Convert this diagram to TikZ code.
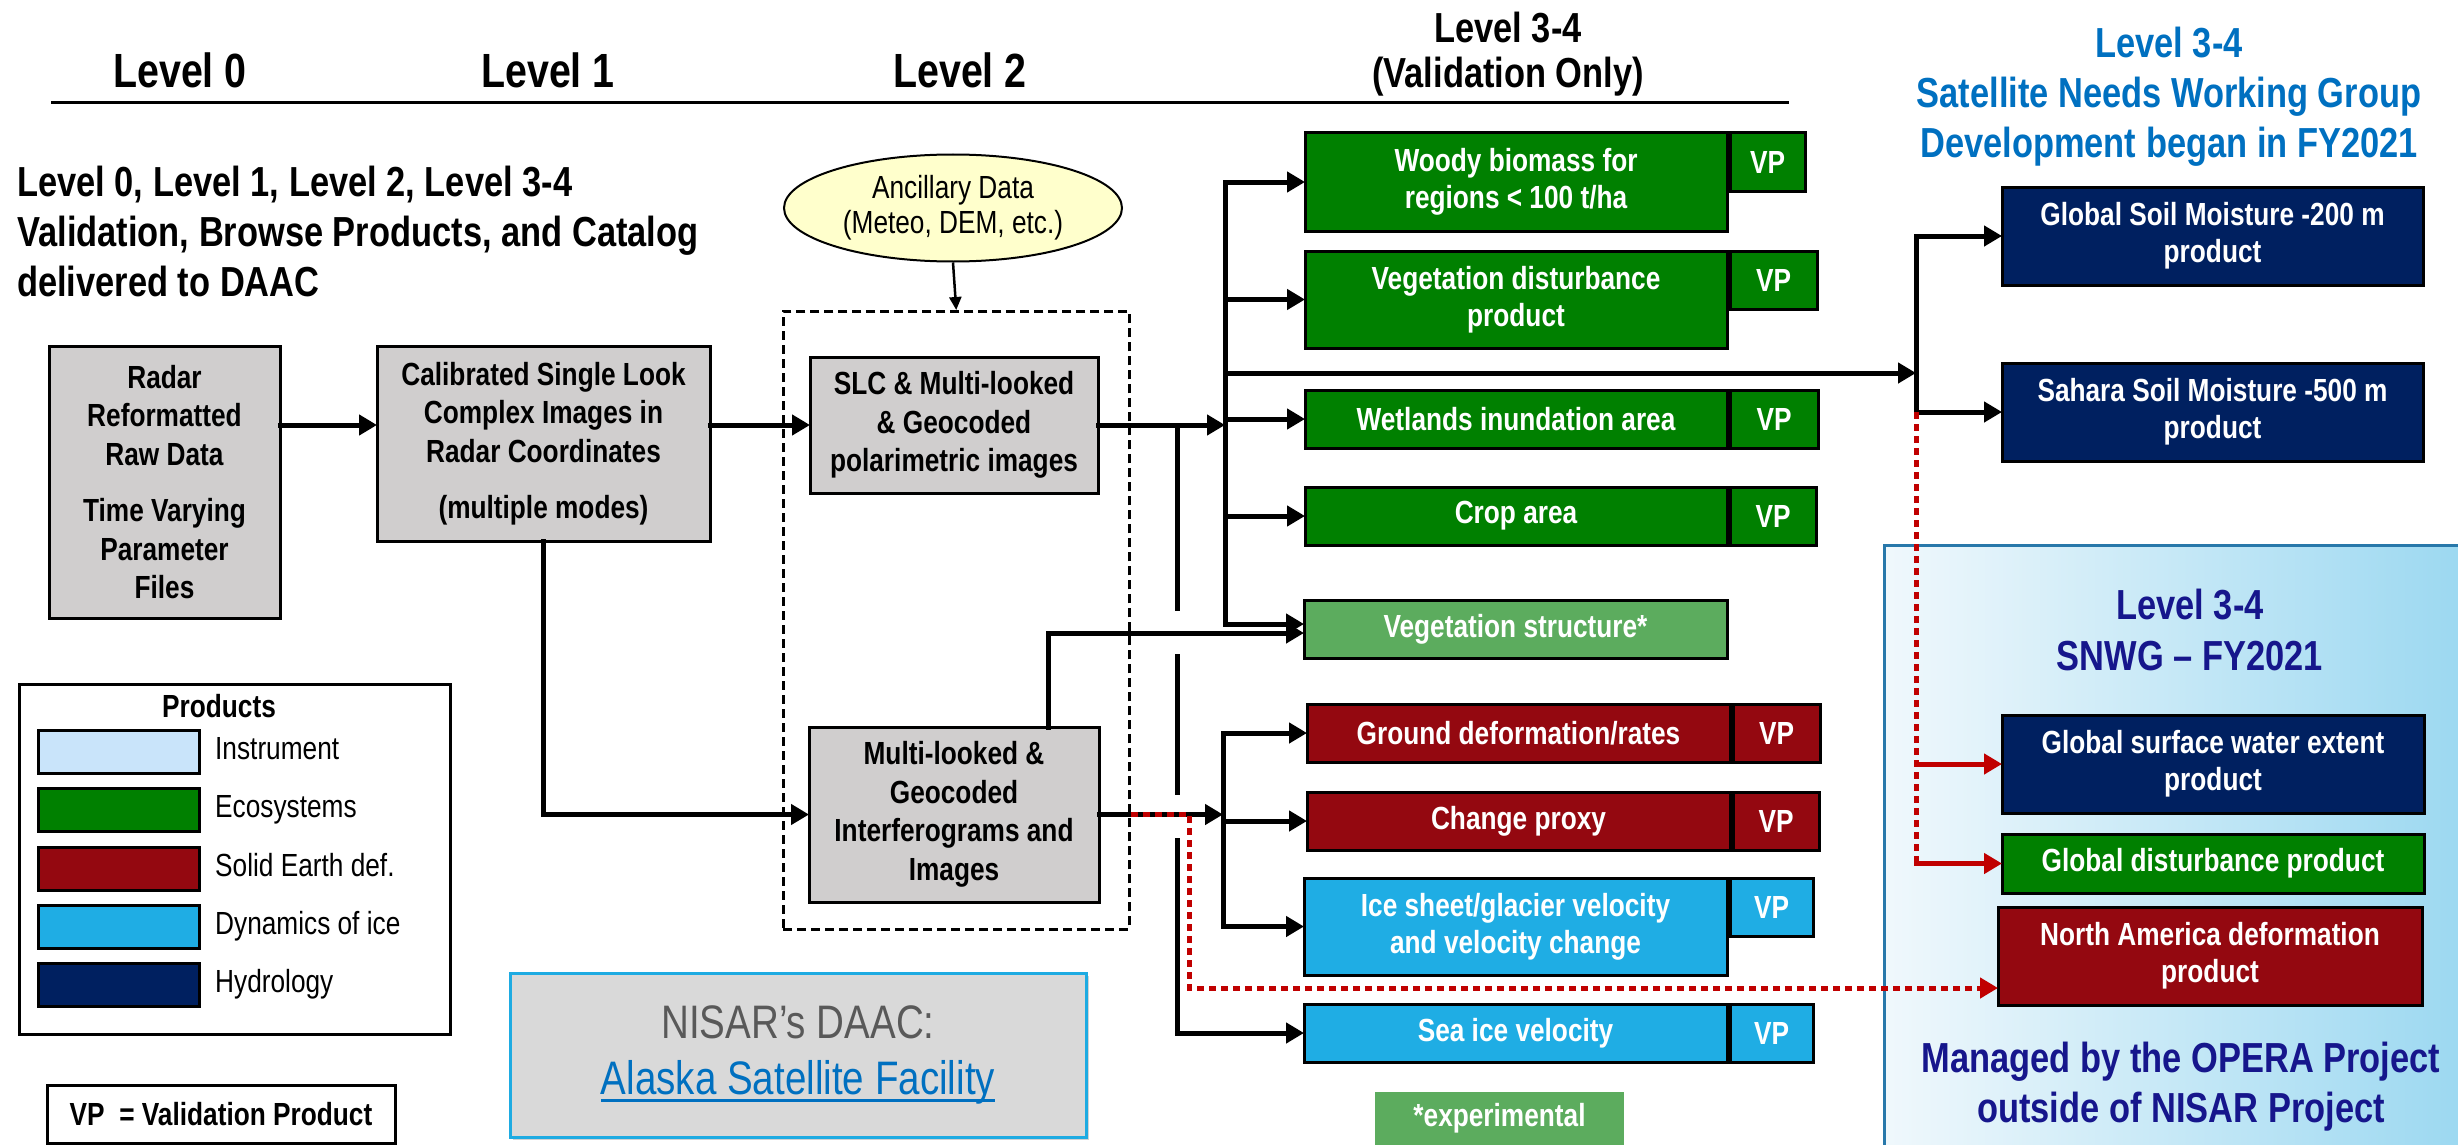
\documentclass[tikz,border=0pt]{standalone}
\usepackage{fontspec}
\setmainfont[FakeStretch=0.82]{Liberation Sans}
\usepackage{xcolor}
\usepackage{tikz}
\usetikzlibrary{shapes.geometric, arrows.meta, positioning, shadows}
\definecolor{ecogreen}{RGB}{0,128,0}
\definecolor{expgreen}{RGB}{92,172,94}
\definecolor{solidred}{RGB}{148,8,16}
\definecolor{iceblue}{RGB}{31,173,228}
\definecolor{hydronavy}{RGB}{0,32,96}
\definecolor{instblue}{RGB}{201,228,250}
\definecolor{boxgray}{RGB}{208,206,206}
\definecolor{daacgray}{RGB}{217,217,217}
\definecolor{daacedge}{RGB}{30,171,226}
\definecolor{daactext}{RGB}{89,89,89}
\definecolor{linkblue}{RGB}{0,112,192}
\definecolor{operablue}{RGB}{22,22,140}
\definecolor{dotred}{RGB}{192,0,0}
\definecolor{ancyellow}{RGB}{255,255,204}
\definecolor{panelleft}{RGB}{240,248,252}
\definecolor{panelright}{RGB}{150,214,240}
\definecolor{paneledge}{RGB}{40,120,170}
\newcommand{\sizeto}[2]{\fontsize{#1}{#2}\selectfont}
\newcommand{\daaclink}[1]{\setbox0\hbox{#1}\rlap{\rule[-7pt]{\wd0}{2.5pt}}\box0}

\begin{document}
\begin{tikzpicture}[
    x=1pt, y=-1pt,
    box/.style={rectangle, draw, line width=3pt, inner sep=0pt, outer sep=0pt, anchor=north west, align=center, font=\sizeto{32}{37}\bfseries},
    graybox/.style={box, fill=boxgray, font=\sizeto{32}{38.5}\bfseries},
    prod/.style={box, text=white},
    vp/.style={prod, minimum height=58pt},
    swatch/.style={box, minimum width=161pt, minimum height=43pt},
    leglabel/.style={font=\sizeto{32}{38}, inner sep=0pt, text height=23pt, text depth=7pt},
    arrow/.style={-{Triangle[length=18pt, width=20pt]}, line width=5pt, line cap=rect},
    busline/.style={line width=5pt, line cap=rect},
    thinarrow/.style={-{Triangle[length=13pt, width=12pt]}, line width=2.5pt},
    dotline/.style={draw=dotred, line width=5pt, dash pattern=on 7pt off 5pt},
    dotarrow/.style={dotline, -{Triangle[length=18pt, width=20pt]}},
    redarrow/.style={arrow, draw=dotred}
]
    \useasboundingbox (0,0) rectangle (2458,1145);
    \clip (0,0) rectangle (2458,1145);

    % OPERA panel
    \node[draw=paneledge, line width=3pt, left color=panelleft, right color=panelright, anchor=north west, minimum width=620pt, minimum height=640pt, inner sep=0pt] (opera) at (1883,544) {};

    % Header
    \node[font=\sizeto{48}{56}\bfseries, anchor=base] (lvzero) at (180,88) {Level 0};
    \node[font=\sizeto{48}{56}\bfseries, anchor=base] (lvone) at (548,88) {Level 1};
    \node[font=\sizeto{48}{56}\bfseries, anchor=base] (lvtwo) at (960,88) {Level 2};
    \node[font=\sizeto{42}{45}\bfseries, align=center, anchor=north, inner sep=0pt] (lvthree) at (1508,12) {Level 3-4\\(Validation Only)};
    \draw[line width=3pt] (51,103) -- (1789,103);

    % Delivery note
    \node[font=\sizeto{42}{50}\bfseries, align=left, anchor=north west, inner sep=0pt] (deliver) at (17,166) {Level 0, Level 1, Level 2, Level 3-4\\Validation, Browse Products, and Catalog\\delivered to DAAC};

    % Level 0 and Level 1
    \node[graybox, minimum width=231pt, minimum height=272pt] (radar) at (49,346) {Radar\\Reformatted\\Raw Data\\[18pt]Time Varying\\Parameter\\Files};
    \node[graybox, minimum width=333pt, minimum height=195pt] (calib) at (377,346) {Calibrated Single Look\\Complex Images in\\Radar Coordinates\\[18pt](multiple modes)};

    % Level 2
    \node[draw, line width=2.5pt, dash pattern=on 9pt off 5pt, anchor=north west, minimum width=346pt, minimum height=618pt, inner sep=0pt] (lvtwogrp) at (782,310) {};
    \node[ellipse, draw, line width=2pt, fill=ancyellow, minimum width=338pt, minimum height=107pt, inner sep=0pt, align=center, font=\sizeto{32}{35}] (ancil) at (953,208) {Ancillary Data\\(Meteo, DEM, etc.)};
    \node[graybox, minimum width=288pt, minimum height=136pt] (slc) at (810,357) {SLC \& Multi-looked\\\& Geocoded\\polarimetric images};
    \node[graybox, minimum width=290pt, minimum height=175pt] (intf) at (809,727) {Multi-looked \&\\Geocoded\\Interferograms and\\Images};

    % Level 3-4 validation products
    \node[prod, fill=ecogreen, minimum width=422pt, minimum height=98pt] (woody) at (1305,133) {Woody biomass for\\regions < 100 t/ha};
    \node[vp, fill=ecogreen, minimum width=75pt] (woodyvp) at ([xshift=3pt]woody.north east) {VP};
    \node[prod, fill=ecogreen, minimum width=422pt, minimum height=97pt] (vegdist) at (1305,251) {Vegetation disturbance\\product};
    \node[vp, fill=ecogreen, minimum width=87pt] (vegdistvp) at ([xshift=3pt]vegdist.north east) {VP};
    \node[prod, fill=ecogreen, minimum width=422pt, minimum height=58pt] (wetl) at (1305,390) {Wetlands inundation area};
    \node[vp, fill=ecogreen, minimum width=88pt] (wetlvp) at ([xshift=3pt]wetl.north east) {VP};
    \node[prod, fill=ecogreen, minimum width=422pt, minimum height=58pt] (crop) at (1305,487) {Crop area};
    \node[vp, fill=ecogreen, minimum width=86pt] (cropvp) at ([xshift=3pt]crop.north east) {VP};
    \node[prod, fill=expgreen, minimum width=423pt, minimum height=58pt] (vegstr) at (1304,600) {Vegetation structure*};
    \node[prod, fill=solidred, minimum width=423pt, minimum height=58pt] (grdef) at (1307,704) {Ground deformation/rates};
    \node[vp, fill=solidred, minimum width=87pt] (grdefvp) at ([xshift=3pt]grdef.north east) {VP};
    \node[prod, fill=solidred, minimum width=423pt, minimum height=58pt] (chg) at (1307,792) {Change proxy};
    \node[vp, fill=solidred, minimum width=86pt] (chgvp) at ([xshift=3pt]chg.north east) {VP};
    \node[prod, fill=iceblue, minimum width=423pt, minimum height=97pt] (icesh) at (1304,878) {Ice sheet/glacier velocity\\and velocity change};
    \node[vp, fill=iceblue, minimum width=83pt] (iceshvp) at ([xshift=3pt]icesh.north east) {VP};
    \node[prod, fill=iceblue, minimum width=423pt, minimum height=58pt] (seaice) at (1304,1004) {Sea ice velocity};
    \node[vp, fill=iceblue, minimum width=83pt] (seaicevp) at ([xshift=3pt]seaice.north east) {VP};
    \node[prod, fill=expgreen, draw=none, minimum width=249pt, minimum height=53pt] (expt) at (1375,1092) {*experimental};

    % SNWG products
    \node[font=\sizeto{42}{50}\bfseries, text=linkblue, align=center, anchor=north, inner sep=0pt] (snwgtitle) at (2169,27) {Level 3-4\\Satellite Needs Working Group\\Development began in FY2021};
    \node[prod, fill=hydronavy, minimum width=421pt, minimum height=98pt] (gsm) at (2002,187) {Global Soil Moisture -200 m\\product};
    \node[prod, fill=hydronavy, minimum width=421pt, minimum height=98pt] (sahara) at (2002,363) {Sahara Soil Moisture -500 m\\product};
    \node[font=\sizeto{42}{51}\bfseries, text=operablue, align=center, anchor=north, inner sep=0pt] (operatitle) at (2190,589) {Level 3-4\\SNWG – FY2021};
    \node[prod, fill=hydronavy, minimum width=422pt, minimum height=98pt] (gsw) at (2002,715) {Global surface water extent\\product};
    \node[prod, fill=ecogreen, minimum width=422pt, minimum height=59pt] (gdist) at (2002,834) {Global disturbance product};
    \node[prod, fill=solidred, minimum width=424pt, minimum height=98pt] (nadef) at (1998,907) {North America deformation\\product};
    \node[font=\sizeto{42}{50}\bfseries, text=operablue, align=center, anchor=north, inner sep=0pt] (opnote) at (2181,1042) {Managed by the OPERA Project\\outside of NISAR Project};

    % Legend
    \node[draw, line width=3pt, anchor=north west, minimum width=431pt, minimum height=350pt, inner sep=0pt] (legend) at (18,683) {};
    \node[font=\sizeto{32}{38}\bfseries, anchor=base] (legtitle) at (219,717) {Products};
    \node[swatch, fill=instblue] (swinst) at (38,730) {};
    \node[swatch, fill=ecogreen] (sweco) at (38,788) {};
    \node[swatch, fill=solidred] (swsolid) at (38,847) {};
    \node[swatch, fill=iceblue] (swice) at (38,905) {};
    \node[swatch, fill=hydronavy] (swhydro) at (38,963) {};
    \node[leglabel, right=16pt of swinst] (lbinst) {Instrument};
    \node[leglabel, right=16pt of sweco] (lbeco) {Ecosystems};
    \node[leglabel, right=16pt of swsolid] (lbsolid) {Solid Earth def.};
    \node[leglabel, right=16pt of swice] (lbice) {Dynamics of ice};
    \node[leglabel, right=16pt of swhydro] (lbhydro) {Hydrology};
    \node[box, minimum width=348pt, minimum height=58pt] (vpkey) at (47,1085) {VP\ \ = Validation Product};

    % DAAC
    \node[box, draw=daacedge, line width=3pt, fill=daacgray, minimum width=576pt, minimum height=164pt, font=\sizeto{47}{56}, drop shadow={shadow xshift=3pt, shadow yshift=-3pt, opacity=0.35}] (daac) at (510,973) {\textcolor{daactext}{NISAR’s DAAC:}\\\textcolor{linkblue}{\daaclink{Alaska Satellite Facility}}};

    % Bus points
    \coordinate (gbus) at (1225,373);
    \coordinate (sbus) at (1916,373);
    \coordinate (rbus) at (1223,815);
    \coordinate (sibus) at (1177,425);
    \coordinate (rdturn) at (1189,988);
    \coordinate (vsbus) at ([yshift=5pt]vegstr.west);
    \coordinate (vsintf) at ([yshift=-4pt]vegstr.west);
    \coordinate (vsout) at ([xshift=94pt]intf.north);

    % Level 0 to Level 2
    \draw[arrow] (radar.east |- slc) -- (calib.west |- slc);
    \draw[arrow] (calib.east |- slc) -- (slc.west);
    \draw[arrow] (calib.south) |- (intf.west);
    \draw[thinarrow] (ancil.south) -- (lvtwogrp.north);

    % Ecosystems
    \draw[busline] (woody.west -| gbus) -- (vsbus -| gbus);
    \draw[arrow] (slc.east) -- (slc.east -| gbus);
    \draw[arrow] (woody.west -| gbus) -- (woody.west);
    \draw[arrow] (vegdist.west -| gbus) -- (vegdist.west);
    \draw[arrow] (wetl.west -| gbus) -- (wetl.west);
    \draw[arrow] (crop.west -| gbus) -- (crop.west);
    \draw[arrow] (vsbus -| gbus) -- (vsbus);
    \draw[arrow] (vsout) |- (vsintf);

    % Sea ice
    \draw[arrow] (sibus) -- ++(0,183) ++(0,48) -- ++(0,136) ++(0,48) |- (seaice.west);

    % SNWG
    \draw[arrow] (gbus) -- (sbus);
    \draw[busline] (gsm.west -| sbus) -- (sahara.west -| sbus);
    \draw[arrow] (gsm.west -| sbus) -- (gsm.west);
    \draw[arrow] (sahara.west -| sbus) -- (sahara.west);

    % Solid Earth and ice
    \draw[arrow] (intf.east) -- (intf.east -| rbus);
    \draw[busline] (grdef.west -| rbus) -- (icesh.west -| rbus);
    \draw[arrow] (grdef.west -| rbus) -- (grdef.west);
    \draw[arrow] (chg.west -| rbus) -- (chg.west);
    \draw[arrow] (icesh.west -| rbus) -- (icesh.west);

    % OPERA links
    \draw[dotline] (sahara.west -| sbus) -- (gdist.west -| sbus);
    \draw[redarrow] (gsw.west -| sbus) -- (gsw.west);
    \draw[redarrow] (gdist.west -| sbus) -- (gdist.west);
    \draw[dotarrow] (lvtwogrp.east |- intf.east) -| (rdturn) -- (rdturn -| nadef.west);
\end{tikzpicture}
\end{document}
